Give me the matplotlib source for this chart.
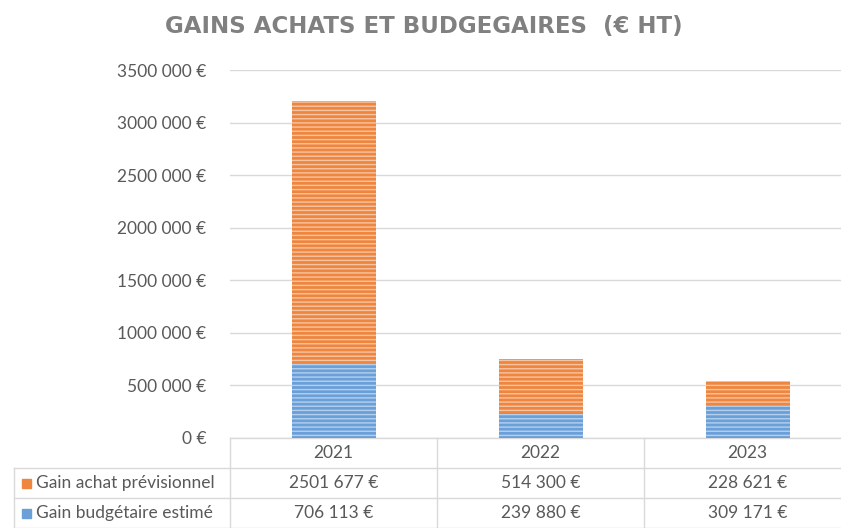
import matplotlib
matplotlib.use("Agg")
import matplotlib.pyplot as plt
from matplotlib.transforms import blended_transform_factory
from matplotlib.patches import Rectangle

years = ["2021", "2022", "2023"]
gain_achat = [2501677, 514300, 228621]
gain_budget = [706113, 239880, 309171]
achat_labels = ["2501 677 €", "514 300 €", "228 621 €"]
budget_labels = ["706 113 €", "239 880 €", "309 171 €"]
series_names = ["Gain achat prévisionnel", "Gain budgétaire estimé"]
yticks = [0, 500000, 1000000, 1500000, 2000000, 2500000, 3000000, 3500000]
ytick_labels = ["0 €", "500 000 €", "1000 000 €", "1500 000 €", "2000 000 €",
                "2500 000 €", "3000 000 €", "3500 000 €"]
title = "GAINS ACHATS ET BUDGEGAIRES  (€ HT)"

FONT = ["Lato", "DejaVu Sans"]
plt.rcParams["font.family"] = FONT
plt.rcParams["hatch.linewidth"] = 1.0

ORANGE = "#EE8640"
BLUE = "#6A9FD8"
TXT = "#595959"
GRID = "#D9D9D9"
FS = 12.5

W, H = 841, 528
fig = plt.figure(figsize=(W / 100, H / 100), dpi=100)
fig.patch.set_facecolor("white")

ax_l, ax_r, ax_b, ax_t = 230, 851, 438, 70
ax = fig.add_axes([ax_l / W, (H - ax_b) / H, (ax_r - ax_l) / W, (ax_b - ax_t) / H])
ax.set_xlim(-0.5, 2.5)
ax.set_ylim(0, 3500000)

x = list(range(len(years)))
bw = 84 / 207
ax.bar(x, gain_budget, width=bw, color=BLUE, edgecolor="#B4D0EE", hatch="----",
       linewidth=0, zorder=3)
ax.bar(x, gain_achat, bottom=gain_budget, width=bw, color=ORANGE,
       edgecolor="#F7C4A2", hatch="----", linewidth=0, zorder=3)

ax.set_yticks(yticks)
ax.set_yticklabels(ytick_labels, color=TXT, fontsize=FS)
ax.tick_params(axis="y", length=0, pad=17)
ax.set_xticks([])
ax.grid(axis="y", color=GRID, linewidth=1, zorder=0)
for s in ax.spines.values():
    s.set_visible(False)

# Title
fig.text(424 / W, 1 - 27 / H, title, ha="center", va="center", fontsize=16.5,
         fontweight="bold", color="#808080", family=["DejaVu Sans"])

# Data table below axes
trans = blended_transform_factory(ax.transData, ax.transAxes)
ah = float(ax_b - ax_t)
row_h = 30 / ah
px_unit = 207.0
left_data = -0.5 - (ax_l - 14) / px_unit
lc = dict(color=GRID, linewidth=1, clip_on=False, transform=trans)

for b in [-0.5, 0.5, 1.5, 2.5]:
    ax.plot([b, b], [0, -3 * row_h], **lc)
ax.plot([left_data, left_data], [-row_h, -3 * row_h], **lc)
ax.plot([-0.5, 2.5], [0, 0], **lc)
for k in [1, 2, 3]:
    ax.plot([left_data, 2.5], [-k * row_h, -k * row_h], **lc)

for i, yr in enumerate(years):
    ax.text(i, -0.5 * row_h, yr, transform=trans, ha="center", va="center",
            fontsize=FS, color=TXT, clip_on=False)
    ax.text(i, -1.5 * row_h, achat_labels[i], transform=trans, ha="center",
            va="center", fontsize=FS, color=TXT, clip_on=False)
    ax.text(i, -2.5 * row_h, budget_labels[i], transform=trans, ha="center",
            va="center", fontsize=FS, color=TXT, clip_on=False)

for k, (name, col) in enumerate(zip(series_names, [ORANGE, BLUE])):
    yc = -(k + 1.5) * row_h
    ax.add_patch(Rectangle((left_data + 8 / px_unit, yc - 4.5 / ah), 9 / px_unit, 9 / ah,
                           transform=trans, color=col, clip_on=False))
    ax.text(left_data + 22 / px_unit, yc, name, transform=trans, ha="left",
            va="center", fontsize=FS, color=TXT, clip_on=False)

fig.savefig("out.png", dpi=100, facecolor="white")
